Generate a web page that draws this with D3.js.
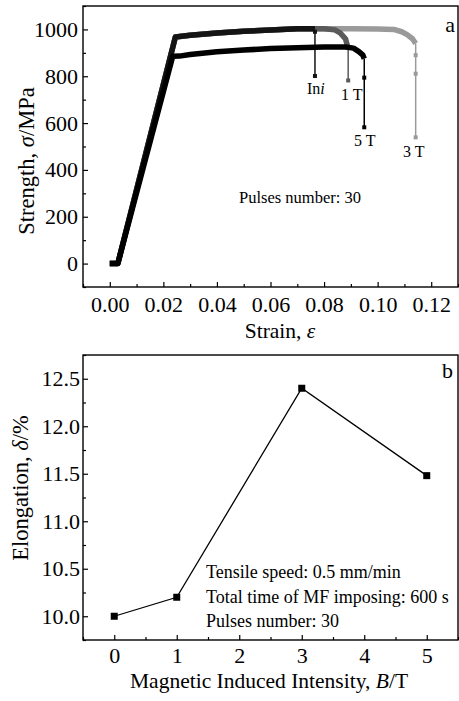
<!DOCTYPE html>
<html>
<head>
<meta charset="utf-8">
<script src="https://cdn.jsdelivr.net/npm/d3@7"></script>
<style>
  body { margin: 0; background: #fff; }
  svg { display: block; font-family: "Liberation Serif", "Times New Roman", serif; }
  .domain { display: none; }
</style>
</head>
<body>
<svg id="chart" width="459" height="701"></svg>
<script>
// panel a: tensile curves (strain, stress) + the thin drop after fracture
const iniStrain = [0, 0.003, 0.0245, 0.03, 0.04, 0.05, 0.06, 0.07, 0.0766];
const iniStress = [0, 0, 968, 975, 985, 992, 998, 1003, 1003];
const iniDrop = [1000, 990, 801];

const t1Strain = [0, 0.003, 0.0245, 0.03, 0.04, 0.05, 0.06, 0.07, 0.08, 0.084, 0.086, 0.088, 0.089];
const t1Stress = [0, 0, 968, 975, 985, 992, 998, 1003, 1003, 998, 985, 960, 918];
const t1Drop = [918, 782];

const t3Strain = [0, 0.003, 0.0245, 0.03, 0.04, 0.05, 0.06, 0.07, 0.08, 0.09, 0.1, 0.106, 0.109, 0.111, 0.113, 0.1142];
const t3Stress = [0, 0, 968, 975, 985, 992, 998, 1003, 1003, 1003, 1002, 1000, 990, 978, 960, 940];
const t3Drop = [940, 890, 811, 539];

const t5Strain = [0, 0.003, 0.0235, 0.026, 0.03, 0.04, 0.05, 0.06, 0.07, 0.08, 0.088, 0.091, 0.093, 0.0945, 0.095];
const t5Stress = [0, 0, 885, 886, 893, 905, 912, 918, 922, 925, 925, 920, 905, 890, 875];
const t5Drop = [875, 794, 582];

const strainTicks = [0, 0.02, 0.04, 0.06, 0.08, 0.10, 0.12];
const stressTicks = [0, 200, 400, 600, 800, 1000];

// panel b: elongation vs magnetic induced intensity
const fieldB = [0, 1, 3, 5];
const elongation = [10.0, 10.2, 12.4, 11.48];
const fieldTicks = [0, 1, 2, 3, 4, 5];
const elongTicks = [10.0, 10.5, 11.0, 11.5, 12.0, 12.5];

const notesB = ["Tensile speed: 0.5 mm/min", "Total time of MF imposing: 600 s", "Pulses number: 30"];

const svg = d3.select("#chart");

function frame(g, x0, y0, x1, y1) {
  g.append("rect")
    .attr("x", x0).attr("y", y0)
    .attr("width", x1 - x0).attr("height", y1 - y0)
    .attr("fill", "none").attr("stroke", "#000").attr("stroke-width", 1.4);
}

function styleAxis(sel, size) {
  sel.attr("font-family", null);
  sel.selectAll("line").attr("stroke", "#000").attr("stroke-width", 1.2);
  sel.selectAll("text").attr("font-size", size).attr("fill", "#000");
}

// ---------- panel a ----------
const ax = d3.scaleLinear().domain([-0.01, 0.13]).range([83, 458]);
const ay = d3.scaleLinear().domain([-100, 1100]).range([287, 6]);
const ga = svg.append("g");

ga.append("g").attr("transform", "translate(0,287)")
  .call(d3.axisBottom(ax).tickValues(strainTicks).tickSize(-5).tickPadding(9).tickFormat(d3.format(".2f")))
  .call(s => styleAxis(s, 22));
ga.append("g").attr("transform", "translate(0,287)")
  .call(d3.axisBottom(ax).tickValues(d3.range(-0.01, 0.131, 0.02)).tickSize(-3).tickFormat(""))
  .call(s => styleAxis(s, 22));
ga.append("g").attr("transform", "translate(83,0)")
  .call(d3.axisLeft(ay).tickValues(stressTicks).tickSize(-5).tickPadding(5).tickFormat(d3.format("d")))
  .call(s => styleAxis(s, 22));
ga.append("g").attr("transform", "translate(83,0)")
  .call(d3.axisLeft(ay).tickValues(d3.range(-100, 1101, 200)).tickSize(-3).tickFormat(""))
  .call(s => styleAxis(s, 22));

const curveLine = d3.line().x(d => ax(d[0])).y(d => ay(d[1]));
const curves = [
  { strain: t3Strain, stress: t3Stress, drop: t3Drop, color: "#9a9a9a" },
  { strain: t1Strain, stress: t1Stress, drop: t1Drop, color: "#5a5a5a" },
  { strain: iniStrain, stress: iniStress, drop: iniDrop, color: "#141414" },
  { strain: t5Strain, stress: t5Stress, drop: t5Drop, color: "#000" },
];
curves.forEach(c => {
  const pts = c.strain.map((s, i) => [s, c.stress[i]]);
  const xEnd = c.strain[c.strain.length - 1];
  ga.append("path").attr("d", curveLine(pts))
    .attr("fill", "none").attr("stroke", c.color).attr("stroke-width", 5.5)
    .attr("stroke-linejoin", "round");
  const dropPts = c.drop.map(v => [xEnd, v]);
  ga.append("path").attr("d", curveLine(dropPts))
    .attr("fill", "none").attr("stroke", c.color).attr("stroke-width", 1.5);
  ga.selectAll(null).data(c.drop.slice(1)).join("rect")
    .attr("x", ax(xEnd) - 2).attr("y", d => ay(d) - 2)
    .attr("width", 4).attr("height", 4).attr("fill", c.color);
});

const curveLabels = [
  { x: 307, y: 94, parts: [["In", "normal"], ["i", "italic"]] },
  { x: 341, y: 100, parts: [["1 T", "normal"]] },
  { x: 354, y: 146, parts: [["5 T", "normal"]] },
  { x: 403, y: 157, parts: [["3 T", "normal"]] },
];
curveLabels.forEach(l => {
  const t = ga.append("text").attr("x", l.x).attr("y", l.y).attr("font-size", 16);
  l.parts.forEach(p => t.append("tspan").attr("font-style", p[1]).text(p[0]));
});

ga.append("text").attr("x", 239).attr("y", 203).attr("font-size", 16.5).text("Pulses number: 30");
ga.append("text").attr("x", 455).attr("y", 32).attr("font-size", 22).attr("text-anchor", "end").text("a");

const xla = ga.append("text").attr("x", 280).attr("y", 338).attr("font-size", 21.5).attr("text-anchor", "middle");
xla.append("tspan").text("Strain, ");
xla.append("tspan").attr("font-style", "italic").text("ε");

const yla = ga.append("text").attr("transform", "translate(34,161) rotate(-90)")
  .attr("font-size", 22.5).attr("text-anchor", "middle");
yla.append("tspan").text("Strength, ");
yla.append("tspan").attr("font-style", "italic").text("σ");
yla.append("tspan").text("/MPa");

frame(ga, 83, 6, 458, 287);

// ---------- panel b ----------
const bx = d3.scaleLinear().domain([-0.5, 5.5]).range([83, 458]);
const by = d3.scaleLinear().domain([9.75, 12.75]).range([640, 355]);
const gb = svg.append("g");

gb.append("g").attr("transform", "translate(0,640)")
  .call(d3.axisBottom(bx).tickValues(fieldTicks).tickSize(-5).tickPadding(7).tickFormat(d3.format("d")))
  .call(s => styleAxis(s, 22));
gb.append("g").attr("transform", "translate(0,640)")
  .call(d3.axisBottom(bx).tickValues(d3.range(-0.5, 5.51, 1)).tickSize(-3).tickFormat(""))
  .call(s => styleAxis(s, 22));
gb.append("g").attr("transform", "translate(83,0)")
  .call(d3.axisLeft(by).tickValues(elongTicks).tickSize(-5).tickPadding(3).tickFormat(d3.format(".1f")))
  .call(s => styleAxis(s, 22));
gb.append("g").attr("transform", "translate(83,0)")
  .call(d3.axisLeft(by).tickValues(d3.range(9.75, 12.76, 0.5)).tickSize(-3).tickFormat(""))
  .call(s => styleAxis(s, 22));

const pts = fieldB.map((b, i) => [b, elongation[i]]);
gb.append("path")
  .attr("d", d3.line().x(d => bx(d[0])).y(d => by(d[1]))(pts))
  .attr("fill", "none").attr("stroke", "#000").attr("stroke-width", 1.3);
gb.selectAll("rect.pt").data(pts).join("rect").attr("class", "pt")
  .attr("x", d => bx(d[0]) - 3.5).attr("y", d => by(d[1]) - 3.5)
  .attr("width", 7).attr("height", 7).attr("fill", "#000");

gb.selectAll("text.note").data(notesB).join("text").attr("class", "note")
  .attr("x", 206).attr("y", (d, i) => 578 + i * 24.5)
  .attr("font-size", 18).text(d => d);

gb.append("text").attr("x", 453).attr("y", 378).attr("font-size", 22).attr("text-anchor", "end").text("b");

const xlb = gb.append("text").attr("x", 269).attr("y", 688).attr("font-size", 21.5).attr("text-anchor", "middle");
xlb.append("tspan").text("Magnetic Induced Intensity, ");
xlb.append("tspan").attr("font-style", "italic").text("B");
xlb.append("tspan").text("/T");

const ylb = gb.append("text").attr("transform", "translate(28,488) rotate(-90)")
  .attr("font-size", 22.5).attr("text-anchor", "middle");
ylb.append("tspan").text("Elongation, ");
ylb.append("tspan").attr("font-style", "italic").text("δ");
ylb.append("tspan").text("/%");

frame(gb, 83, 355, 458, 640);
</script>
</body>
</html>
